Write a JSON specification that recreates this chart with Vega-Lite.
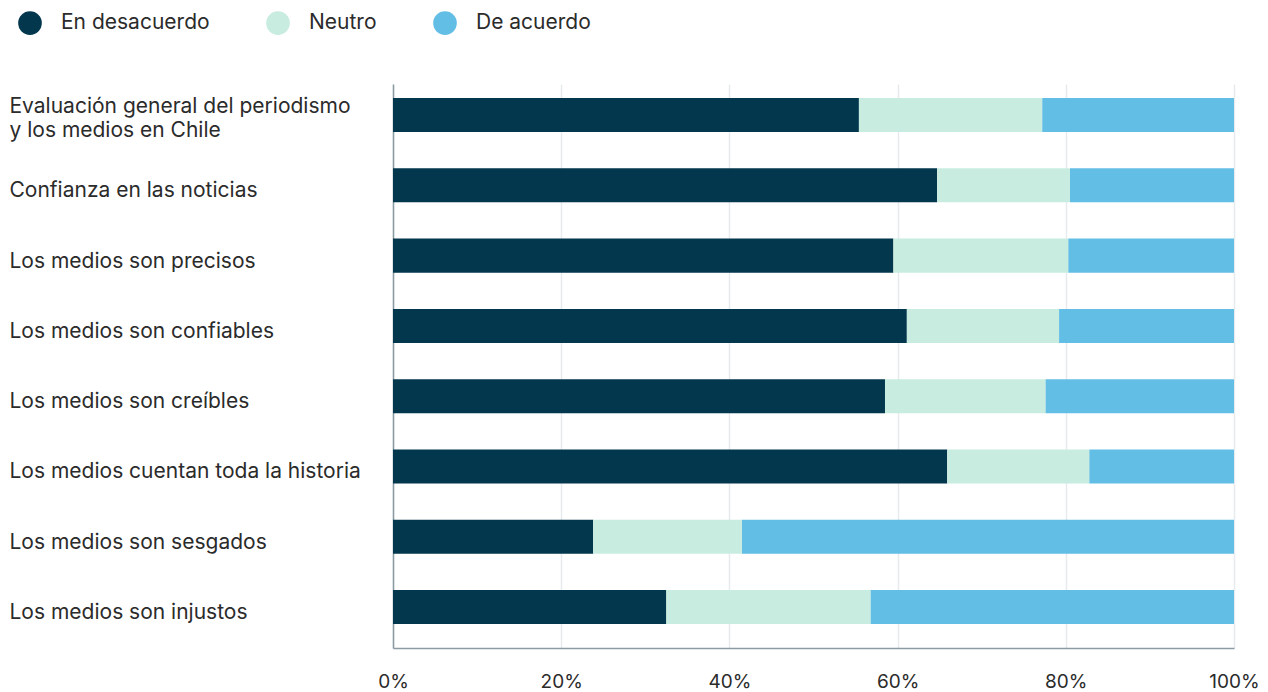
{
  "$schema": "https://vega.github.io/schema/vega-lite/v6.json",
  "width": 841,
  "height": 564,
  "autosize": {"type": "none"},
  "padding": {"left": 393, "top": 84, "right": 34, "bottom": 44},
  "background": "white",
  "config": {
    "font": "Inter",
    "view": {"stroke": null}
  },
  "data": {
    "values": [
      {"item": "Evaluación general del periodismo|y los medios en Chile", "resp": "En desacuerdo", "orden": 1, "valor": 55.4},
      {"item": "Evaluación general del periodismo|y los medios en Chile", "resp": "Neutro", "orden": 2, "valor": 21.8},
      {"item": "Evaluación general del periodismo|y los medios en Chile", "resp": "De acuerdo", "orden": 3, "valor": 22.8},
      {"item": "Confianza en las noticias", "resp": "En desacuerdo", "orden": 1, "valor": 64.7},
      {"item": "Confianza en las noticias", "resp": "Neutro", "orden": 2, "valor": 15.8},
      {"item": "Confianza en las noticias", "resp": "De acuerdo", "orden": 3, "valor": 19.5},
      {"item": "Los medios son precisos", "resp": "En desacuerdo", "orden": 1, "valor": 59.5},
      {"item": "Los medios son precisos", "resp": "Neutro", "orden": 2, "valor": 20.8},
      {"item": "Los medios son precisos", "resp": "De acuerdo", "orden": 3, "valor": 19.7},
      {"item": "Los medios son confiables", "resp": "En desacuerdo", "orden": 1, "valor": 61.1},
      {"item": "Los medios son confiables", "resp": "Neutro", "orden": 2, "valor": 18.1},
      {"item": "Los medios son confiables", "resp": "De acuerdo", "orden": 3, "valor": 20.8},
      {"item": "Los medios son creíbles", "resp": "En desacuerdo", "orden": 1, "valor": 58.5},
      {"item": "Los medios son creíbles", "resp": "Neutro", "orden": 2, "valor": 19.1},
      {"item": "Los medios son creíbles", "resp": "De acuerdo", "orden": 3, "valor": 22.4},
      {"item": "Los medios cuentan toda la historia", "resp": "En desacuerdo", "orden": 1, "valor": 65.9},
      {"item": "Los medios cuentan toda la historia", "resp": "Neutro", "orden": 2, "valor": 16.9},
      {"item": "Los medios cuentan toda la historia", "resp": "De acuerdo", "orden": 3, "valor": 17.2},
      {"item": "Los medios son sesgados", "resp": "En desacuerdo", "orden": 1, "valor": 23.8},
      {"item": "Los medios son sesgados", "resp": "Neutro", "orden": 2, "valor": 17.7},
      {"item": "Los medios son sesgados", "resp": "De acuerdo", "orden": 3, "valor": 58.5},
      {"item": "Los medios son injustos", "resp": "En desacuerdo", "orden": 1, "valor": 32.5},
      {"item": "Los medios son injustos", "resp": "Neutro", "orden": 2, "valor": 24.3},
      {"item": "Los medios son injustos", "resp": "De acuerdo", "orden": 3, "valor": 43.2}
    ]
  },
  "mark": {"type": "bar"},
  "encoding": {
    "y": {
      "field": "item",
      "type": "nominal",
      "sort": null,
      "scale": {"paddingInner": 0.516, "paddingOuter": 0.27, "align": 0.37},
      "axis": {
        "title": null,
        "ticks": false,
        "labelAlign": "left",
        "labelPadding": 384,
        "labelLimit": 420,
        "labelFontSize": 21,
        "labelColor": "#2b2b2b",
        "labelLineHeight": 24,
        "labelOffset": {"condition": {"test": "indexof(datum.value, '|') >= 0", "value": -8}, "value": 6},
        "labelExpr": "split(datum.label, '|')",
        "domainColor": "#8c9aa4",
        "domainWidth": 1.5
      }
    },
    "x": {
      "field": "valor",
      "type": "quantitative",
      "stack": "normalize",
      "scale": {"domain": [0, 1], "nice": false},
      "axis": {
        "title": null,
        "format": ".0%",
        "values": [0, 0.2, 0.4, 0.6, 0.8, 1],
        "ticks": false,
        "labelFlush": false,
        "labelPadding": 24,
        "labelFontSize": 19,
        "labelColor": "#2b2b2b",
        "gridColor": "#e8ebed",
        "gridWidth": 1.5,
        "domainColor": "#8c9aa4",
        "domainWidth": 1.5
      }
    },
    "color": {
      "field": "resp",
      "type": "nominal",
      "scale": {
        "domain": ["En desacuerdo", "Neutro", "De acuerdo"],
        "range": ["#02374d", "#c8ece0", "#63bee6"]
      },
      "legend": {
        "title": null,
        "orient": "none",
        "legendX": -375,
        "legendY": -73,
        "direction": "horizontal",
        "symbolType": "circle",
        "symbolSize": 560,
        "symbolStrokeWidth": 0,
        "labelFontSize": 21,
        "labelColor": "#2b2b2b",
        "labelOffset": 19,
        "columnPadding": 56
      }
    },
    "order": {"field": "orden", "type": "quantitative"}
  }
}
